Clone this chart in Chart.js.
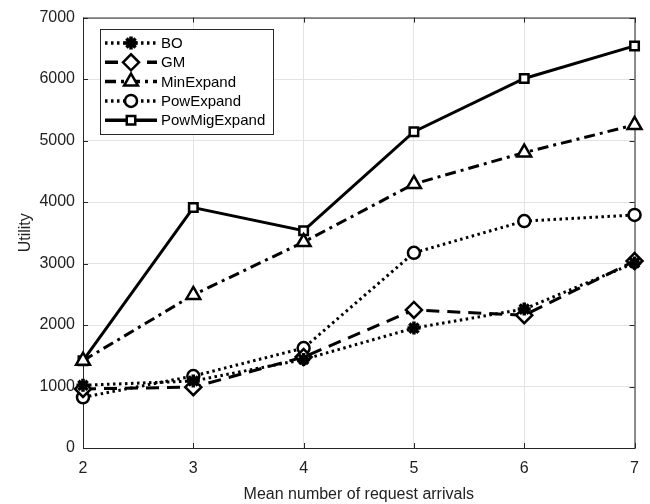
<!DOCTYPE html>
<html>
<head>
<meta charset="utf-8">
<script src="https://cdn.jsdelivr.net/npm/chart.js@4.4.0/dist/chart.umd.min.js"></script>
<style>
  html, body { margin: 0; padding: 0; background: #fff; }
  #wrap { width: 650px; height: 504px; }
</style>
</head>
<body>
<div id="wrap"><canvas id="utilChart" width="650" height="504"></canvas></div>
<script>
const arrivals = [2, 3, 4, 5, 6, 7];
const boData = [1020, 1090, 1440, 1950, 2260, 3010];
const gmData = [960, 990, 1480, 2245, 2160, 3040];
const minExpandData = [1420, 2490, 3350, 4295, 4805, 5255];
const powExpandData = [825, 1170, 1625, 3175, 3690, 3790];
const powMigExpandData = [1420, 3910, 3535, 5145, 6010, 6540];
const yTicks = [0, 1000, 2000, 3000, 4000, 5000, 6000, 7000];

const font = 'Liberation Sans, Arial, sans-serif';

function toXY(vals) {
    return vals.map((v, i) => ({ x: arrivals[i], y: v }));
}

const series = [
    { label: 'BO', data: boData, dash: [2.5, 3.5], style: 'star', r: 6.5, fill: '#000', bw: 3.5 },
    { label: 'GM', data: gmData, dash: [13, 8], style: 'rectRot', r: 8, fill: '#fff', bw: 2.5 },
    { label: 'MinExpand', data: minExpandData, dash: [11, 5, 3, 5], style: 'triangle', r: 8, fill: '#fff', bw: 2.5 },
    { label: 'PowExpand', data: powExpandData, dash: [2.5, 3.5], style: 'circle', r: 6, fill: '#fff', bw: 2.5 },
    { label: 'PowMigExpand', data: powMigExpandData, dash: [], style: 'rect', r: 6, fill: '#fff', bw: 2.5 }
];

// box around the axes, inward ticks, and the legend inside the plot
const framePlugin = {
    id: 'frame',
    beforeDatasetsDraw(chart) {
        const a = chart.chartArea, c = chart.ctx;
        const xs = chart.scales.x, ys = chart.scales.y;
        c.save();
        c.strokeStyle = '#262626';
        c.lineWidth = 1;
        c.strokeRect(a.left + 0.5, a.top + 0.5, a.right - a.left, a.bottom - a.top);
        c.beginPath();
        arrivals.forEach(v => {
            const px = Math.round(xs.getPixelForValue(v)) + 0.5;
            c.moveTo(px, a.bottom); c.lineTo(px, a.bottom - 5);
            c.moveTo(px, a.top); c.lineTo(px, a.top + 5);
        });
        yTicks.forEach(v => {
            const py = Math.round(ys.getPixelForValue(v)) + 0.5;
            c.moveTo(a.left, py); c.lineTo(a.left + 5, py);
            c.moveTo(a.right, py); c.lineTo(a.right - 5, py);
        });
        c.stroke();
        c.restore();
    },
    afterDatasetsDraw(chart) {
        const c = chart.ctx;
        const bx = 100, by = 29, bw = 173, bh = 105;
        c.save();
        c.fillStyle = '#fff';
        c.fillRect(bx, by, bw, bh);
        c.strokeStyle = '#262626';
        c.lineWidth = 1;
        c.strokeRect(bx + 0.5, by + 0.5, bw, bh);
        series.forEach((s, i) => {
            const y = by + 14 + i * 19.3;
            c.strokeStyle = '#000';
            c.lineWidth = 3.5;
            c.setLineDash(s.dash);
            c.beginPath();
            c.moveTo(105, y);
            c.lineTo(157, y);
            c.stroke();
            c.setLineDash([]);
            c.fillStyle = s.fill;
            c.lineWidth = s.bw;
            Chart.helpers.drawPoint(c, { pointStyle: s.style, radius: s.r, borderWidth: s.bw }, 131, y);
            c.fillStyle = '#000';
            c.font = '15px ' + font;
            c.textBaseline = 'middle';
            c.fillText(s.label, 161, y + 1);
        });
        c.restore();
    }
};

new Chart(document.getElementById('utilChart'), {
    type: 'line',
    data: {
        datasets: series.map(s => ({
            label: s.label,
            data: toXY(s.data),
            borderColor: '#000',
            borderWidth: 3,
            borderDash: s.dash,
            pointStyle: s.style,
            pointRadius: s.r,
            pointBorderWidth: s.bw,
            pointBorderColor: '#000',
            pointBackgroundColor: s.fill,
            tension: 0,
            clip: false
        }))
    },
    options: {
        responsive: false,
        animation: false,
        layout: { padding: { top: 12, right: 12, left: 16, bottom: 0 } },
        plugins: {
            legend: { display: false },
            tooltip: { enabled: false }
        },
        scales: {
            x: {
                type: 'linear',
                min: 2,
                max: 7,
                afterFit(scale) { scale.height = 56; },
                afterBuildTicks(scale) { scale.ticks = arrivals.map(v => ({ value: v })); },
                grid: { color: '#e3e3e3', lineWidth: 1, drawTicks: false },
                border: { display: false },
                ticks: { color: '#222', padding: 11, font: { family: font, size: 16 } },
                title: {
                    display: true,
                    text: 'Mean number of request arrivals',
                    color: '#222',
                    padding: { top: 0, bottom: 0 },
                    font: { family: font, size: 16 }
                }
            },
            y: {
                min: 0,
                max: 7000,
                afterFit(scale) { scale.width = 67; },
                afterBuildTicks(scale) { scale.ticks = yTicks.map(v => ({ value: v })); },
                grid: { color: '#e3e3e3', lineWidth: 1, drawTicks: false },
                border: { display: false },
                ticks: {
                    color: '#222',
                    padding: 8,
                    font: { family: font, size: 16 },
                    callback: v => String(v)
                },
                title: {
                    display: true,
                    text: 'Utility',
                    color: '#222',
                    padding: { top: 0, bottom: 0 },
                    font: { family: font, size: 16 }
                }
            }
        }
    },
    plugins: [framePlugin]
});
</script>
</body>
</html>
